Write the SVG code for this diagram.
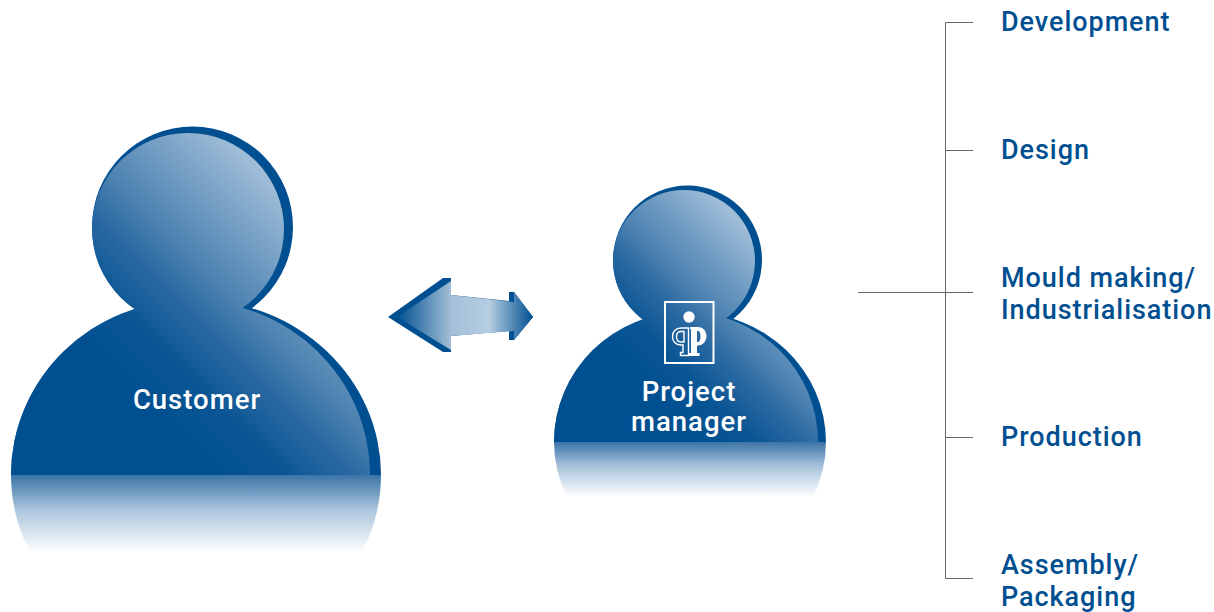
<svg xmlns="http://www.w3.org/2000/svg" width="1214" height="612" viewBox="0 0 1214 612">
<style>
.dark{fill:#004f91}
.lbl{font-family:"Roboto","Liberation Sans",sans-serif;font-weight:500;font-size:27px;fill:#004f91;letter-spacing:.95px}
.in{font-family:"Roboto","Liberation Sans",sans-serif;font-weight:500;font-size:27.500px;fill:#fff;text-anchor:middle;letter-spacing:1px}
.ln{stroke:#666;stroke-width:1;fill:none}
.s0{stop-color:#004f91}.s1{stop-color:#0a5594}.s2{stop-color:#2a69a2}.s3{stop-color:#4a80b0}.s4{stop-color:#7fa6c9}.s5{stop-color:#b5cde1}
</style>
<defs>
<linearGradient id="gc" gradientUnits="userSpaceOnUse" x1="190" y1="460" x2="390" y2="260"><stop offset="0" class="s0"/><stop offset=".2" class="s1"/><stop offset=".375" class="s2"/><stop offset=".5" class="s3"/><stop offset=".75" class="s4"/><stop offset="1" class="s5"/></linearGradient>
<linearGradient id="gm" gradientUnits="userSpaceOnUse" x1="686" y1="431" x2="833" y2="284"><stop offset="0" class="s0"/><stop offset=".2" class="s1"/><stop offset=".375" class="s2"/><stop offset=".5" class="s3"/><stop offset=".75" class="s4"/><stop offset="1" class="s5"/></linearGradient>
<linearGradient id="rc" gradientUnits="userSpaceOnUse" x1="0" y1="475" x2="0" y2="552"><stop offset="0" stop-color="#3b74a8"/><stop offset=".45" stop-color="#aac4dc"/><stop offset="1" stop-color="#fff"/></linearGradient>
<linearGradient id="rm" gradientUnits="userSpaceOnUse" x1="0" y1="442" x2="0" y2="497"><stop offset="0" stop-color="#3b74a8"/><stop offset=".45" stop-color="#aac4dc"/><stop offset="1" stop-color="#fff"/></linearGradient>
<linearGradient id="ga" gradientUnits="userSpaceOnUse" x1="397" y1="0" x2="533" y2="0"><stop offset="0" stop-color="#004f91"/><stop offset=".4" stop-color="#a4bfd8"/><stop offset=".68" stop-color="#b5cde1"/><stop offset="1" stop-color="#004f91"/></linearGradient>
</defs>
<g id="customer">
<path d="M11 475A185 175 0 0 0 30 552L362 552A185 175 0 0 0 381 475Z" fill="url(#rc)"/>
<circle class="dark" cx="192.500" cy="227" r="100.500"/>
<path class="dark" d="M11 475A185 175 0 0 1 381 475Z"/>
<circle cx="188" cy="229" r="96" fill="url(#gc)"/>
<path d="M11 475A179.500 175 0 0 1 370 475Z" fill="url(#gc)"/>
<text class="in" x="197" y="409">Customer</text>
</g>
<g id="project-manager">
<path d="M554 442A136 130 0 0 0 567 497L813 497A136 130 0 0 0 826 442Z" fill="url(#rm)"/>
<circle class="dark" cx="687.500" cy="260" r="74.500"/>
<path class="dark" d="M554 442A136 130 0 0 1 826 442Z"/>
<circle cx="684" cy="261" r="71" fill="url(#gm)"/>
<path d="M554 442A132 130 0 0 1 818 442Z" fill="url(#gm)"/>
<g id="logo">
<rect x="665" y="302" width="48.500" height="61" fill="none" stroke="#fff" stroke-width="2"/>
<circle cx="689" cy="317" r="5.700" fill="#fff"/>
<path fill="#fff" fill-rule="evenodd" d="M690 327H698C703 327 706.500 331 706.500 336C706.500 341 703 345.500 698 345.500H697V353H699.500V356H689V353H691V329H690ZM697 331V342H698C699.500 342 700.500 339.500 700.500 336C700.500 333 699.500 331 698 331Z"/>
<path fill="none" stroke="#fff" stroke-width="1.400" d="M689 328H681C675.500 328 672.500 332 672.500 336.500C672.500 341 675.500 345 681 345H683V352.500H680.500V355.500H688.500V328M684 331.500V342H681C678 342 676.500 339.500 676.500 336.500C676.500 333.500 678 331.500 681 331.500Z"/>
</g>
<text class="in" x="689" y="401">Project</text>
<text class="in" x="689" y="431">manager</text>
</g>
<g id="double-arrow">
<path class="dark" d="M388 317L443 278H451V295L509 301V292H514L533 317L514 340H509V331L451 336V352H443Z"/>
<path fill="url(#ga)" d="M397 317L451 281V295L514 302V292L533 317L514 340V331L451 336V350Z"/>
</g>
<g id="connectors">
<path class="ln" d="M973 22.500H945.500V578.500H973M945.500 150.500H973M858 292.500H973M945.500 437.500H973"/>
</g>
<g id="development"><text class="lbl" x="1001" y="31">Development</text></g>
<g id="design"><text class="lbl" x="1001" y="159">Design</text></g>
<g id="mould-making"><text class="lbl" x="1001" y="287">Mould making/</text><text class="lbl" x="1001" y="319">Industrialisation</text></g>
<g id="production"><text class="lbl" x="1001" y="446">Production</text></g>
<g id="assembly"><text class="lbl" x="1001" y="574">Assembly/</text><text class="lbl" x="1001" y="606">Packaging</text></g>
</svg>
